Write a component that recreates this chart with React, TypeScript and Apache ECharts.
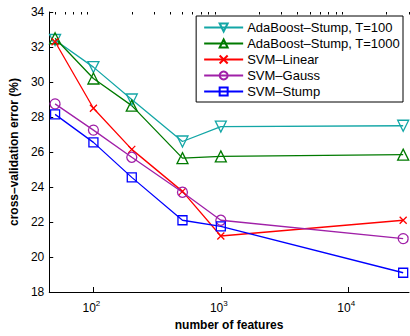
import React, { useEffect, useRef } from "react";
import * as echarts from "echarts";

const features = [50, 100, 200, 500, 1000, 27000];
const adaT100 = [32.4, 30.85, 29.0, 26.6, 27.45, 27.5];
const adaT1000 = [32.5, 30.2, 28.65, 25.65, 25.75, 25.85];
const svmLinear = [32.3, 28.5, 26.15, 23.75, 21.2, 22.1];
const svmGauss = [28.75, 27.25, 25.7, 23.7, 22.1, 21.05];
const svmStump = [28.15, 26.55, 24.55, 22.1, 21.75, 19.1];

const seriesNames = [
  "AdaBoost–Stump, T=100",
  "AdaBoost–Stump, T=1000",
  "SVM–Linear",
  "SVM–Gauss",
  "SVM–Stump",
];
const majorTicks = [100, 1000, 10000];
const minorTicks = [50, 60, 70, 80, 90, 200, 300, 400, 500, 600, 700, 800, 900, 2000, 3000, 4000, 5000, 6000, 7000, 8000, 9000, 20000, 30000];
const yTicks = [18, 20, 22, 24, 26, 28, 30, 32, 34];

const colors = ["#13a6a6", "#007a00", "#ff0000", "#a020a8", "#0000ff"];
const symbols = [
  "path://M0,0L10,0L5,9Z",
  "path://M5,0L10,9L0,9Z",
  "path://M0,0L10,10M10,0L0,10",
  "circle",
  "rect",
];
const symbolSizes = [11, 11, 7, 10, 9];
const values = [adaT100, adaT1000, svmLinear, svmGauss, svmStump];

const FONT = "'Liberation Sans', Arial, Helvetica, sans-serif";

export default function App() {
  const ref = useRef<HTMLDivElement>(null);
  useEffect(() => {
    if (!ref.current) return;
    const chart = echarts.init(ref.current, undefined, { renderer: "svg" });
    const series = values.map((vals, i) => ({
      name: seriesNames[i],
      type: "line",
      data: vals.map((v, j) => [features[j], v]),
      symbol: symbols[i],
      symbolSize: symbolSizes[i],
      showAllSymbol: true,
      lineStyle: { color: colors[i], width: 1.3 },
      itemStyle: { color: "rgba(0,0,0,0)", borderColor: colors[i], borderWidth: 1.3 },
      emphasis: { disabled: true },
    }));
    const baseX = {
      type: "log",
      logBase: 10,
      min: 45,
      max: 30000,
      gridIndex: 0,
    };
    chart.setOption({
      animation: false,
      textStyle: { fontFamily: FONT },
      grid: { left: 45, right: 1, top: 12, bottom: 38, containLabel: false },
      legend: {
        orient: "vertical",
        right: 7,
        top: 16,
        data: seriesNames,
        itemWidth: 39,
        itemHeight: 10,
        itemGap: 3,
        padding: [5, 3, 4, 7],
        borderColor: "#000",
        borderWidth: 1,
        backgroundColor: "#fff",
        textStyle: { fontSize: 13, color: "#000", fontFamily: FONT, padding: [0, 0, 0, -1] },
      },
      xAxis: [
        {
          ...baseX,
          name: "number of features",
          nameLocation: "middle",
          nameGap: 27,
          nameTextStyle: { fontWeight: "bold", fontSize: 12, color: "#000" },
          axisLine: { show: true, lineStyle: { color: "#000", width: 1 } },
          axisTick: { show: true, inside: true, length: 5, customValues: majorTicks, lineStyle: { color: "#000" } },
          axisLabel: {
            customValues: majorTicks,
            margin: 7,
            color: "#000",
            formatter: (v: number) => `{b|10}{s|${Math.round(Math.log10(v))}}`,
            rich: {
              b: { fontSize: 12, color: "#000", fontFamily: FONT },
              s: { fontSize: 8, color: "#000", fontFamily: FONT, padding: [0, 4, 9, 0] },
            },
          },
          splitLine: { show: false },
        },
        {
          ...baseX,
          axisLine: { show: false },
          axisTick: { show: true, inside: true, length: 2.5, customValues: minorTicks, lineStyle: { color: "#000" } },
          axisLabel: { show: false },
          splitLine: { show: false },
        },
      ],
      yAxis: {
        type: "value",
        min: 18,
        max: 34,
        interval: 2,
        name: "cross–validation error (%)",
        nameLocation: "middle",
        nameGap: 24,
        nameTextStyle: { fontWeight: "bold", fontSize: 12, color: "#000" },
        axisLine: { show: true, lineStyle: { color: "#000", width: 1 } },
        axisTick: { show: true, inside: true, length: 4, customValues: yTicks, lineStyle: { color: "#000" } },
        axisLabel: { fontSize: 12, color: "#000", margin: 5, customValues: yTicks },
        splitLine: { show: false },
      },
      series,
    });
    return () => chart.dispose();
  }, []);
  return (
    <div
      ref={ref}
      style={{ position: "fixed", left: 0, top: 0, width: 410, height: 336, background: "#fff" }}
    />
  );
}
